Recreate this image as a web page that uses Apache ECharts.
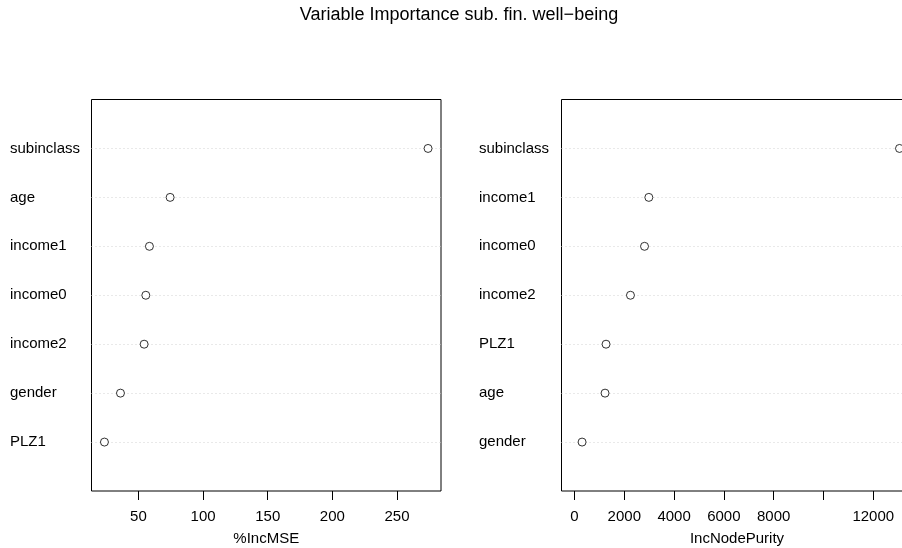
<!DOCTYPE html>
<html>
<head>
<meta charset="utf-8">
<script src="https://cdn.jsdelivr.net/npm/echarts@6/dist/echarts.min.js"></script>
<style>
  html, body { margin: 0; padding: 0; background: #fff; }
  #chart { width: 902px; height: 548px; }
</style>
</head>
<body>
<div id="chart"></div>
<script>
// Variable importance from a random forest: two dot charts side by side.
// Rows are listed bottom to top.
const mseVars   = ['PLZ1', 'gender', 'income2', 'income0', 'income1', 'age', 'subinclass'];
const mseValues = [23.7, 36.1, 54.4, 55.7, 58.5, 74.5, 274];
const mseTicks  = [50, 100, 150, 200, 250];

const purityVars   = ['gender', 'age', 'PLZ1', 'income2', 'income0', 'income1', 'subinclass'];
const purityValues = [305, 1227, 1267, 2248, 2813, 2986, 13055];
const purityTicks  = [0, 2000, 4000, 6000, 8000, 10000, 12000];
const purityTickLabels = [0, 2000, 4000, 6000, 8000, 12000];

const FONT = 'Liberation Sans, Arial, Helvetica, sans-serif';
const TEXT = '#000';

// Limits padded by 4% of the range on each side; node purity starts from 0.
function padded(lo, hi) {
  const d = (hi - lo) * 0.04;
  return [lo - d, hi + d];
}
const mseLim = padded(Math.min(...mseValues), Math.max(...mseValues));
const purityLim = padded(0, Math.max(...purityValues));

// One empty slot above and below the rows gives the dot chart its margins.
const withPad = names => [''].concat(names, ['']);
const points = (names, vals) => vals.map((v, i) => [v, names[i]]);

function xAxis(idx, lim, ticks, labels, name) {
  return {
    type: 'value', gridIndex: idx, min: lim[0], max: lim[1],
    name: name, nameLocation: 'middle', nameGap: 40,
    nameTextStyle: { color: TEXT, fontSize: 15, fontFamily: FONT },
    axisLine: { show: false },
    splitLine: { show: false },
    axisTick: { show: true, length: 9, customValues: ticks, lineStyle: { color: '#000', width: 1 } },
    axisLabel: {
      customValues: labels, color: TEXT, fontSize: 15, fontFamily: FONT, margin: 18,
      formatter: v => String(v)
    }
  };
}

function yAxis(idx, names, margin) {
  return {
    type: 'category', gridIndex: idx, data: withPad(names), boundaryGap: false,
    axisLine: { show: false },
    axisTick: { show: false },
    axisLabel: {
      color: TEXT, fontSize: 15, fontFamily: FONT, align: 'left', margin: margin,
      interval: 0
    },
    splitLine: {
      show: true,
      interval: (i, v) => v !== '',
      lineStyle: { color: '#d3d3d3', type: [1, 3], width: 1 }
    }
  };
}

function dots(idx, names, vals) {
  return {
    type: 'scatter', xAxisIndex: idx, yAxisIndex: idx,
    data: points(names, vals),
    symbol: 'circle', symbolSize: 8,
    itemStyle: { color: '#fff', borderColor: '#000', borderWidth: 1 },
    emphasis: { disabled: true },
    z: 5
  };
}

const chart = echarts.init(document.getElementById('chart'), null, { renderer: 'canvas' });
chart.setOption({
  animation: false,
  backgroundColor: '#fff',
  title: {
    text: 'Variable Importance sub. fin. well\u2212being',
    left: 454, top: 1, textAlign: 'center',
    textStyle: { color: TEXT, fontSize: 18, fontWeight: 'normal', fontFamily: FONT }
  },
  grid: [
    { left: 91.5, top: 99.5, width: 349.5, height: 391.5, show: true, outerBoundsMode: 'none',
      borderColor: '#000', borderWidth: 1, backgroundColor: 'transparent' },
    { left: 561.5, top: 99.5, width: 351, height: 391.5, show: true, outerBoundsMode: 'none',
      borderColor: '#000', borderWidth: 1, backgroundColor: 'transparent' }
  ],
  xAxis: [
    xAxis(0, mseLim, mseTicks, mseTicks, '%IncMSE'),
    xAxis(1, purityLim, purityTicks, purityTickLabels, 'IncNodePurity')
  ],
  yAxis: [
    yAxis(0, mseVars, 81.5),
    yAxis(1, purityVars, 82.5)
  ],
  series: [
    dots(0, mseVars, mseValues),
    dots(1, purityVars, purityValues)
  ]
});
</script>
</body>
</html>
